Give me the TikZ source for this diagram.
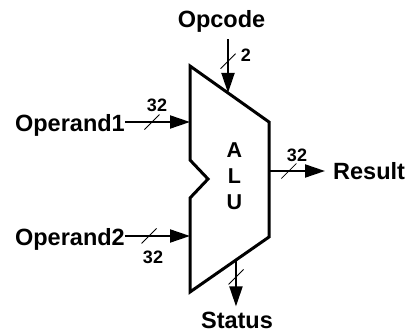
\documentclass[tikz,border=0pt]{standalone}
\usepackage{fontspec}
\setmainfont{Liberation Sans}
\usetikzlibrary{arrows.meta,calc}
\begin{document}
\begin{tikzpicture}[x=1pt,y=-1pt,
  lbl/.style={font=\fontsize{23.5}{27}\selectfont\bfseries, inner sep=0pt},
  num/.style={font=\fontsize{18}{21}\selectfont\bfseries, inner sep=0pt, anchor=base},
  alutxt/.style={font=\fontsize{21.5}{25}\selectfont\bfseries, inner sep=0pt, anchor=base},
  bus/.style={line width=2pt, -{Triangle[length=20pt,width=13pt]}},
  slash/.style={line width=0.8pt},
  alubody/.style={line width=3pt, line join=miter}]
\useasboundingbox (0,0) rectangle (406,336);
% ALU body
\coordinate (tl) at (190,66);
\coordinate (tr) at (269,122);
\coordinate (br) at (269,237);
\coordinate (bl) at (190,292);
\coordinate (n1) at (190,160);
\coordinate (n2) at (208,179);
\coordinate (n3) at (190,198);
\draw[alubody] (tl) -- (tr) -- (br) -- (bl) -- (n3) -- (n2) -- (n1) -- cycle;
\node[alutxt] (la) at (234.5,158) {A};
\node[alutxt] (ll) at (234.5,184) {L};
\node[alutxt] (lu) at (234.5,210) {U};
% ports
\coordinate (in1) at (190,122);
\coordinate (in2) at (190,236);
\coordinate (out) at (269,171);
\coordinate (opin) at ($(tl)!0.481!(tr)$);
\coordinate (stout) at ($(br)!0.418!(bl)$);
% labels
\node[lbl, anchor=base] (opc) at (221.5,28) {Opcode};
\node[lbl, anchor=base east] (op1) at (125,132) {Operand1};
\node[lbl, anchor=base east] (op2) at (125,245) {Operand2};
\node[lbl, anchor=base west] (res) at (333,180) {Result};
\node[lbl, anchor=base] (st) at (237,328) {Status};
% connectors
\draw[bus, shorten <=6pt] (opc.south -| opin) -- coordinate[pos=0.47] (s0) (opin);
\draw[bus] (op1.east |- in1) -- coordinate[pos=0.415] (s1) (in1);
\draw[bus] (op2.east |- in2) -- coordinate[pos=0.37] (s2) (in2);
\draw[bus, shorten >=8pt] (out) -- coordinate[pos=0.31] (s3) (res.west |- out);
\draw[bus, shorten >=5pt] (stout) -- coordinate[pos=0.33] (s4) (st.north -| stout);
% bus width slashes
\foreach \s in {s0,s1,s2,s3,s4}
  \draw[slash] ([shift={(-7.5,7.5)}]\s) -- ([shift={(7.5,-7.5)}]\s);
% widths
\node[num] (w0) at (246,62) {2};
\node[num] (w1) at (157,112) {32};
\node[num] (w2) at (153,263) {32};
\node[num] (w3) at (297,162) {32};
\end{tikzpicture}
\end{document}
